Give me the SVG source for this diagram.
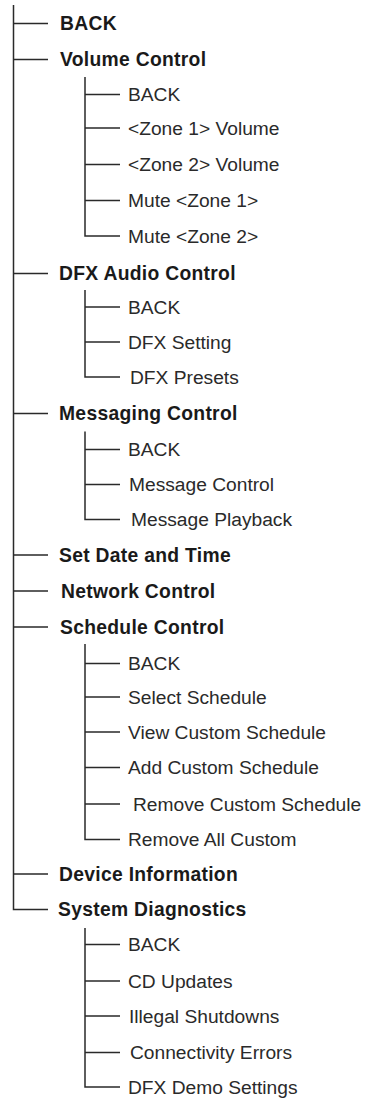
<svg xmlns="http://www.w3.org/2000/svg" width="369" height="1098" viewBox="0 0 369 1098">
<style>
.ln{stroke:#2a2a2a;stroke-width:1.5;fill:none}
.m{font-family:"Liberation Sans",Arial,sans-serif;font-size:19.3px;letter-spacing:0.3px;font-weight:bold;fill:#1a1a1a}
.s{font-family:"Liberation Sans",Arial,sans-serif;font-size:19.2px;fill:#2a2a2a}
</style>
<rect width="369" height="1098" fill="#fff"/>
<g id="connectors" class="ln">
<path d="M13.5 5V909.5H48"/>
<path d="M13.5 23.5H48M13.5 59.5H48M13.5 273.5H48M13.5 413.5H48M13.5 555H48M13.5 591H48M13.5 627H48M13.5 874H48"/>
<path d="M85 77V236H120M85 94.5H120M85 128H120M85 164.5H120M85 200.5H120"/>
<path d="M85 290V377H120M85 307H120M85 342H120"/>
<path d="M85 431.5V519.5H120M85 449.5H120M85 484.5H120"/>
<path d="M85 644V839.5H120M85 663.5H120M85 697H120M85 732H120M85 767.5H120M85 804H120"/>
<path d="M85 928V1087H120M85 944.5H120M85 981H120M85 1016H120M85 1052.5H120"/>
</g>
<g id="n-back" class="m"><text x="60" y="30">BACK</text></g>
<g id="n-volume"><text class="m" x="60" y="66">Volume Control</text>
<text class="s" x="128" y="101">BACK</text>
<text class="s" x="128" y="134.5">&lt;Zone 1&gt; Volume</text>
<text class="s" x="128" y="171">&lt;Zone 2&gt; Volume</text>
<text class="s" x="128" y="207">Mute &lt;Zone 1&gt;</text>
<text class="s" x="128" y="242.5">Mute &lt;Zone 2&gt;</text></g>
<g id="n-dfx"><text class="m" x="59" y="280">DFX Audio Control</text>
<text class="s" x="128" y="313.5">BACK</text>
<text class="s" x="128" y="348.5">DFX Setting</text>
<text class="s" x="130" y="383.5">DFX Presets</text></g>
<g id="n-msg"><text class="m" x="59" y="420">Messaging Control</text>
<text class="s" x="128" y="456">BACK</text>
<text class="s" x="129" y="491">Message Control</text>
<text class="s" x="131" y="526">Message Playback</text></g>
<g id="n-date" class="m"><text x="59" y="561.5">Set Date and Time</text></g>
<g id="n-net" class="m"><text x="61" y="597.5">Network Control</text></g>
<g id="n-sched"><text class="m" x="60" y="633.5">Schedule Control</text>
<text class="s" x="128" y="670">BACK</text>
<text class="s" x="128" y="703.5">Select Schedule</text>
<text class="s" x="128" y="738.5">View Custom Schedule</text>
<text class="s" x="128" y="774">Add Custom Schedule</text>
<text class="s" x="133" y="810.5">Remove Custom Schedule</text>
<text class="s" x="128" y="846">Remove All Custom</text></g>
<g id="n-dev" class="m"><text x="59" y="880.5">Device Information</text></g>
<g id="n-sys"><text class="m" x="58" y="916">System Diagnostics</text>
<text class="s" x="128" y="951">BACK</text>
<text class="s" x="128" y="987.5">CD Updates</text>
<text class="s" x="129" y="1022.5">Illegal Shutdowns</text>
<text class="s" x="130" y="1059">Connectivity Errors</text>
<text class="s" x="128" y="1093.5">DFX Demo Settings</text></g>
</svg>
